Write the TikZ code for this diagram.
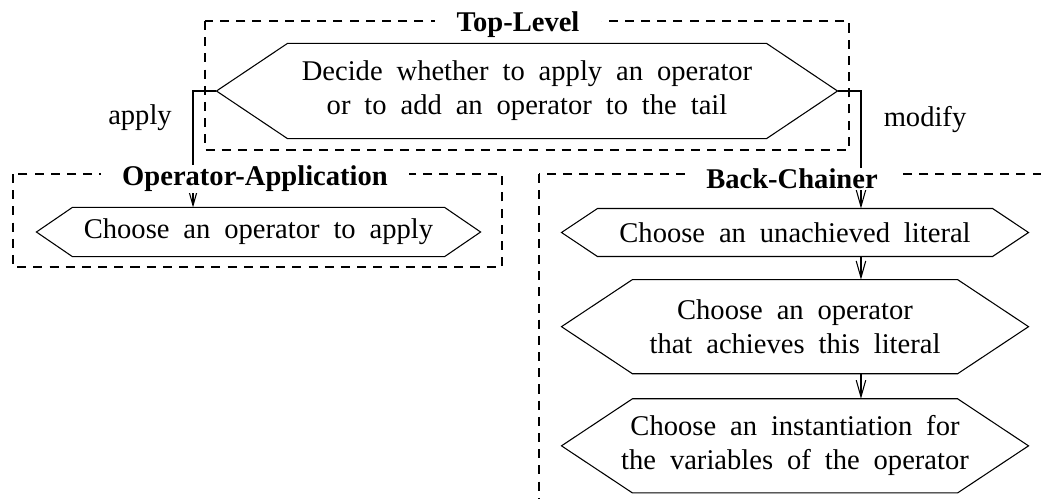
\documentclass[tikz,border=0pt]{standalone}
\usepackage{fontspec}
\setmainfont{Liberation Serif}
\usetikzlibrary{arrows.meta,positioning}
\newcommand{\hexfont}{\fontsize{12}{14.3}\selectfont\spaceskip 5.85pt\relax}
\tikzstyle{hexnode} = [rectangle, inner sep=0pt, align=center, font=\hexfont]
\tikzstyle{group} = [draw, dash pattern=on 3.8pt off 3pt, line width=0.45pt]
\tikzstyle{grouptitle} = [fill=white, inner xsep=9pt, inner ysep=0.5pt, font=\fontsize{12}{14.3}\selectfont\bfseries]
\tikzstyle{lbl} = [font=\fontsize{12}{14.3}\selectfont]
\newcommand{\hexframe}[2]{%
  \draw (#1.west) -- ([xshift=#2]#1.north west) -- ([xshift=-#2]#1.north east)
    -- (#1.east) -- ([xshift=-#2]#1.south east) -- ([xshift=#2]#1.south west) -- cycle;}

\begin{document}
\begin{tikzpicture}[x=0.42pt, y=-0.42pt, line width=0.45pt, >={Straight Barb[length=7pt,width=4pt]}]

\useasboundingbox (0,0) rectangle (1041,498);
\clip (0,0) rectangle (1041,498);

% decision nodes
\node [hexnode, minimum width=260.4pt, minimum height=39.5pt] (decide) at (527,91)
  {Decide whether to apply an operator\\or to add an operator to the tail};
\node [hexnode, minimum width=186.1pt, minimum height=20.2pt] (chooseop) at (258.5,232)
  {Choose an operator to apply};
\node [hexnode, minimum width=195.7pt, minimum height=19.7pt] (chooselit) at (795,232.5)
  {Choose an unachieved literal};
\node [hexnode, minimum width=195.7pt, minimum height=39.1pt, below=9.7pt of chooselit] (achieve)
  {Choose an operator\\that achieves this literal};
\node [hexnode, minimum width=195.7pt, minimum height=39.1pt, below=10.5pt of achieve] (instantiate)
  {Choose an instantiation for\\the variables of the operator};

\hexframe{decide}{29.8pt}
\hexframe{chooseop}{15.1pt}
\hexframe{chooselit}{15.1pt}
\hexframe{achieve}{29.8pt}
\hexframe{instantiate}{29.8pt}

% problem spaces
\draw [group] (205,21) rectangle (849,150);
\draw [group] (13,174) rectangle (502,267);
\draw [group] (539,174) rectangle (1080,540);

\draw [->] (decide.west) -| ([xshift=-27.5pt]chooseop.north);
\draw [->] (decide.east) -| ([xshift=27.7pt]chooselit.north);
\draw [->] ([xshift=27.7pt]chooselit.south) -- ([xshift=27.7pt]achieve.north);
\draw [->] ([xshift=27.7pt]achieve.south) -- ([xshift=27.7pt]instantiate.north);

\node [lbl] (applylbl) at (140,118) {apply};
\node [lbl] (modifylbl) at (925,120) {modify};

\node [grouptitle] (toptitle) at (518,25) {Top-Level};
\node [grouptitle] (opapptitle) at (255,179) {Operator-Application};
\node [grouptitle] (bctitle) at (792,179) {Back-Chainer};

\end{tikzpicture}
\end{document}
